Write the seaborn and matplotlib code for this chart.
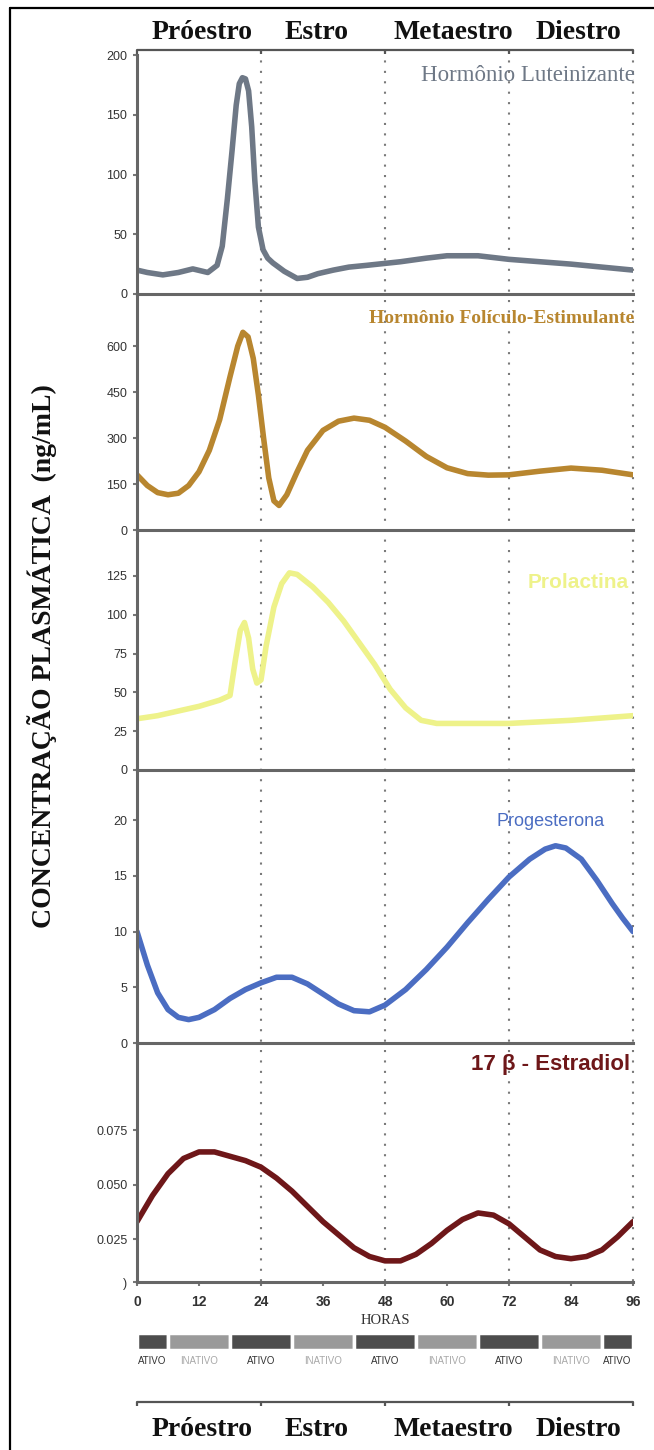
import numpy as np
import matplotlib.pyplot as plt
from matplotlib.lines import Line2D
import seaborn as sns

# ---- data (hours of the cycle -> plasma concentration) ----
lh_h = [0, 2, 5, 8, 10.8, 13.7, 15.5, 16.5, 17.5, 18.4, 19.2, 19.8, 20.4, 21, 21.6, 22.2, 22.8, 23.5, 24.4, 25.3, 26.3, 28.5, 31, 33, 35, 38, 41, 44.5, 51, 56, 60, 66, 72, 84, 96]
lh_v = [20, 18, 16, 18, 21, 18, 24, 40, 80, 120, 158, 176, 181, 180, 170, 140, 95, 56, 37, 30, 26, 19, 13, 14, 17, 20, 22.5, 24, 27, 30, 32, 32, 29, 25, 20]

fsh_h = [0, 2, 4, 6, 8, 10, 12, 14, 16, 18, 19.5, 20.5, 21.5, 22.5, 23.5, 24.5, 25.5, 26.5, 27.5, 29, 31, 33, 36, 39, 42, 45, 48, 52, 56, 60, 64, 68, 72, 78, 84, 90, 96]
fsh_v = [180, 145, 122, 115, 120, 145, 190, 260, 360, 500, 600, 645, 630, 560, 440, 300, 170, 95, 80, 115, 190, 260, 325, 355, 365, 358, 335, 290, 240, 203, 184, 179, 180, 192, 202, 195, 180]

prl_h = [0, 4, 8, 12, 16, 18, 19, 20, 20.8, 21.6, 22.4, 23.2, 24, 25, 26.5, 28, 29.5, 31, 34, 37, 40, 43, 46, 49, 52, 55, 58, 62, 72, 84, 96]
prl_v = [33, 35, 38, 41, 45, 48, 70, 90, 95, 85, 65, 56, 58, 80, 105, 120, 127, 126, 118, 108, 96, 82, 68, 52, 40, 32, 30, 30, 30, 32, 35]

prg_h = [0, 2, 4, 6, 8, 10, 12, 15, 18, 21, 24, 27, 30, 33, 36, 39, 42, 45, 48, 52, 56, 60, 64, 68, 72, 76, 79, 81, 83, 86, 89, 92, 94, 96]
prg_v = [10, 7, 4.5, 3, 2.3, 2.1, 2.3, 3.0, 4.0, 4.8, 5.4, 5.9, 5.9, 5.3, 4.4, 3.5, 2.9, 2.8, 3.4, 4.8, 6.6, 8.6, 10.8, 12.9, 14.9, 16.5, 17.4, 17.7, 17.5, 16.5, 14.6, 12.5, 11.2, 10]

e2_h = [0, 3, 6, 9, 12, 15, 18, 21, 24, 27, 30, 33, 36, 39, 42, 45, 48, 51, 54, 57, 60, 63, 66, 69, 72, 75, 78, 81, 84, 87, 90, 93, 96]
e2_v = [0.033, 0.045, 0.055, 0.062, 0.065, 0.065, 0.063, 0.061, 0.058, 0.053, 0.047, 0.040, 0.033, 0.027, 0.021, 0.017, 0.015, 0.015, 0.018, 0.023, 0.029, 0.034, 0.037, 0.036, 0.032, 0.026, 0.020, 0.017, 0.016, 0.017, 0.020, 0.026, 0.033]

hormone_names = ['Hormônio Luteinizante', 'Hormônio Folículo-Estimulante', 'Prolactina', 'Progesterona', '17 β - Estradiol']
y_ticks = [[0, 50, 100, 150, 200], [0, 150, 300, 450, 600], [0, 25, 50, 75, 100, 125], [0, 5, 10, 15, 20], [0.0053, 0.025, 0.050, 0.075]]
y_ticklabels = [None, None, None, None, [')', '0.025', '0.050', '0.075']]

phase_names = ['Próestro', 'Estro', 'Metaestro', 'Diestro']
phase_edges = [0, 24, 48, 72, 96]
x_ticks = [0, 12, 24, 36, 48, 60, 72, 84, 96]

act_start = [0, 6, 18, 30, 42, 54, 66, 78, 90]
act_state = ['ATIVO', 'INATIVO', 'ATIVO', 'INATIVO', 'ATIVO', 'INATIVO', 'ATIVO', 'INATIVO', 'ATIVO']

# ---- style ----
sns.set_style('white')
plt.rcParams['font.family'] = ['Liberation Sans', 'DejaVu Sans']

W, H = 654, 1450
fig = plt.figure(figsize=(W / 100, H / 100), dpi=100)

X0, X1 = 137, 633                      # pixel position of hour 0 and hour 96
pxh = (X1 - X0) / 96.0
panel_px = [(55, 294), (294, 530), (530, 770), (770, 1043), (1043, 1282)]
ylims = [(0, 200), (0, 770), (0, 154.6), (0, 24.5), (0.0053, 0.115)]
colors = ['#6e7886', '#b8862f', '#eef28a', '#4b6dc2', '#6e1719']
label_style = [
    dict(family='Liberation Serif', size=16.5, weight='normal', y=0.915),
    dict(family='Liberation Serif', size=14, weight='bold', y=0.898),
    dict(family='Liberation Sans', size=15, weight='bold', y=0.78),
    dict(family='Liberation Sans', size=13, weight='normal', y=0.81),
    dict(family='Liberation Sans', size=16, weight='bold', y=0.908),
]
label_right = [96.3, 96.3, 95.2, 90.6, 95.4]

# overlay axis: x in hours, y in pixels from top
ov = fig.add_axes([0, 0, 1, 1], zorder=0)
ov.set_xlim(-X0 / pxh, (W - X0) / pxh)
ov.set_ylim(H, 0)
ov.axis('off')
ov.patch.set_alpha(0)

ov.vlines(phase_edges[1:], 50, 1282, colors='#7a7a7a', linestyles=(0, (1, 4)), linewidth=1.5)

series = [(lh_h, lh_v), (fsh_h, fsh_v), (prl_h, prl_v), (prg_h, prg_v), (e2_h, e2_v)]
for i, ((hh, vv), (top, bot)) in enumerate(zip(series, panel_px)):
    ax = fig.add_axes([X0 / W, 1 - bot / H, (X1 - X0) / W, (bot - top) / H], zorder=2)
    ax.patch.set_alpha(0)
    sns.lineplot(x=hh, y=vv, ax=ax, color=colors[i], linewidth=4.0,
                 solid_capstyle='round', solid_joinstyle='round')
    ax.set_xlim(0, 96)
    ax.set_ylim(*ylims[i])
    ax.set_yticks(y_ticks[i])
    if y_ticklabels[i] is not None:
        ax.set_yticklabels(y_ticklabels[i])
    for s in ['top', 'right']:
        ax.spines[s].set_visible(False)
    for s in ['left', 'bottom']:
        ax.spines[s].set_color('#666666')
        ax.spines[s].set_linewidth(2.2)
    ax.tick_params(axis='y', length=3, width=1.5, color='#777777', labelsize=9,
                   labelcolor='#333333', pad=4, left=True)
    if i == 4:
        ax.set_xticks(x_ticks)
        ax.tick_params(axis='x', length=3, width=1.5, color='#777777', labelsize=10,
                       labelcolor='#333333', pad=6, bottom=True)
        for t in ax.get_xticklabels():
            t.set_fontweight('bold')
    else:
        ax.set_xticks([])
    ax.set_xlabel('')
    ax.set_ylabel('')
    st = label_style[i]
    ax.text(label_right[i], st['y'], hormone_names[i], transform=ax.get_xaxis_transform(),
            ha='right', va='center', color=colors[i], family=st['family'],
            fontsize=st['size'], fontweight=st['weight'])

# phase brackets (top and bottom)
label_shift = [0.6, -1.2, 1.2, 1.4]
for yl, yt in [(50, 32), (1402, 1430)]:
    ov.plot([phase_edges[0], phase_edges[-1]], [yl, yl], color='#555555', lw=1.6)
    ov.vlines(phase_edges, yl, yl + 4, colors='#555555', lw=1.6)
    for k, name in enumerate(phase_names):
        cx = (phase_edges[k] + phase_edges[k + 1]) / 2 + label_shift[k]
        ov.text(cx, yt, name, ha='center', va='center', family='Liberation Serif',
                fontsize=20, fontweight='bold', color='#111111')

ov.text(48, 1321, 'HORAS', ha='center', va='center', family='Liberation Serif',
        fontsize=10.5, color='#333333')

# activity bar
act_end = act_start[1:] + [96]
for s, e, st in zip(act_start, act_end, act_state):
    fc = '#4d4d4d' if st == 'ATIVO' else '#9a9a9a'
    ov.bar(s, 17, width=e - s, bottom=1333, align='edge', color=fc,
           edgecolor='white', linewidth=2.5)
    ov.text((s + e) / 2, 1361, st, ha='center', va='center', fontsize=7,
            color='#333333' if st == 'ATIVO' else '#a8a8a8')

fig.text(42 / W, 1 - 656 / H, 'CONCENTRAÇÃO PLASMÁTICA  (ng/mL)', rotation=90,
         ha='center', va='center', family='Liberation Serif', fontsize=20,
         fontweight='bold', color='#111111')

# image frame
fig.add_artist(Line2D([10 / W, 10 / W], [0, 1 - 8 / H], color='black', lw=1.6))
fig.add_artist(Line2D([10 / W, 1], [1 - 8 / H, 1 - 8 / H], color='black', lw=1.6))

fig.savefig('out.png', dpi=100)
